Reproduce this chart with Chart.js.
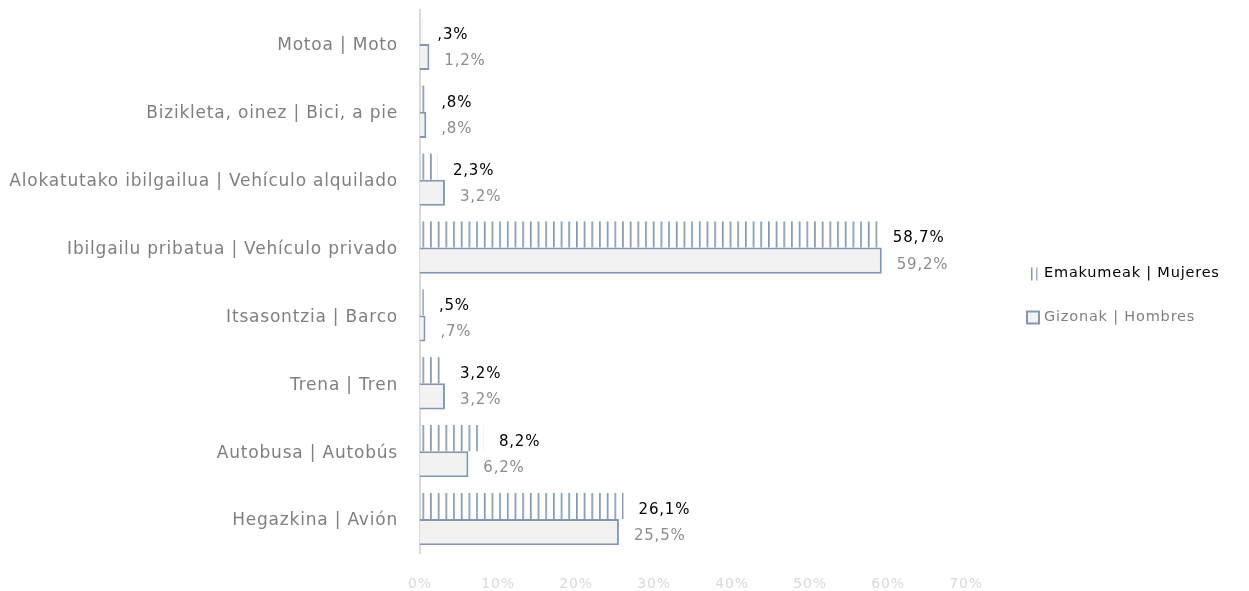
<!DOCTYPE html>
<html>
<head>
<meta charset="utf-8">
<script src="https://cdn.jsdelivr.net/npm/chart.js@4/dist/chart.umd.min.js"></script>
<style>
  html, body { margin: 0; padding: 0; background: #ffffff; }
  #wrap { width: 1249px; height: 591px; }
</style>
</head>
<body>
<div id="wrap"><canvas id="chart" width="1249" height="591"></canvas></div>
<script>
// Transport modes (Basque | Spanish)
const categories = [
  'Motoa | Moto',
  'Bizikleta, oinez | Bici, a pie',
  'Alokatutako ibilgailua | Vehículo alquilado',
  'Ibilgailu pribatua | Vehículo privado',
  'Itsasontzia | Barco',
  'Trena | Tren',
  'Autobusa | Autobús',
  'Hegazkina | Avión'
];
const seriesNames = ['Emakumeak | Mujeres', 'Gizonak | Hombres'];
const womenValues = [0.3, 0.8, 2.3, 58.7, 0.5, 3.2, 8.2, 26.1];
const menValues   = [1.2, 0.8, 3.2, 59.2, 0.7, 3.2, 6.2, 25.5];
const xTicks = [0, 10, 20, 30, 40, 50, 60, 70];

const FONT = 'DejaVu Sans';
const SPACING = '0.8px';
const BLUE_GREY = '#8497b0';

// Vertical-stripe fill used for the women's bars
function stripePattern() {
  const c = document.createElement('canvas');
  c.width = 8; c.height = 8;
  const g = c.getContext('2d');
  g.fillStyle = BLUE_GREY;
  g.fillRect(0, 0, 1, 8);
  g.fillStyle = '#a3b1c4';
  g.fillRect(1, 0, 1, 8);
  const p = document.getElementById('chart').getContext('2d').createPattern(c, 'repeat');
  p.setTransform(new DOMMatrix([0.96, 0, 0, 1, 0, 0]));
  return p;
}
const stripes = stripePattern();

function fmtPct(v) {
  let s = v.toFixed(1).replace('.', ',');
  if (s.startsWith('0')) s = s.slice(1);
  return s + '%';
}

// Wider tracking for all chart text
const tracking = {
  id: 'tracking',
  beforeLayout(chart) { chart.ctx.letterSpacing = SPACING; },
  beforeDraw(chart) { chart.ctx.letterSpacing = SPACING; }
};

// Value labels placed just past the end of each bar
const valueLabels = {
  id: 'valueLabels',
  afterDatasetsDraw(chart) {
    const ctx = chart.ctx;
    ctx.save();
    ctx.font = '15px "' + FONT + '"';
    ctx.textAlign = 'left';
    ctx.textBaseline = 'middle';
    chart.data.datasets.forEach((ds, di) => {
      const meta = chart.getDatasetMeta(di);
      ctx.fillStyle = di === 0 ? '#000000' : '#8c8c8c';
      meta.data.forEach((el, i) => {
        ctx.fillText(fmtPct(ds.data[i]), el.x + 15, el.y + 4);
      });
    });
    ctx.restore();
  }
};

// Legend on the right: striped marker for women, outlined box for men
const sideLegend = {
  id: 'sideLegend',
  afterDraw(chart) {
    const ctx = chart.ctx;
    const a = chart.chartArea;
    const cy = (a.top + a.bottom) / 2 + 14;
    const x0 = 1026, tx = 1044;
    ctx.save();
    ctx.font = '14.5px "' + FONT + '"';
    ctx.textAlign = 'left';
    ctx.textBaseline = 'middle';
    // women
    const y1 = cy - 22;
    ctx.fillStyle = BLUE_GREY;
    ctx.fillRect(x0 + 5, y1 - 6, 1.5, 13);
    ctx.fillStyle = '#a3b1c4';
    ctx.fillRect(x0 + 10, y1 - 6, 1.5, 13);
    ctx.fillStyle = '#000000';
    ctx.fillText(seriesNames[0], tx, y1);
    // men
    const y2 = cy + 22;
    ctx.fillStyle = '#f2f2f2';
    ctx.strokeStyle = BLUE_GREY;
    ctx.lineWidth = 2;
    ctx.fillRect(x0 + 1, y2 - 6, 12, 12);
    ctx.strokeRect(x0 + 1, y2 - 6, 12, 12);
    ctx.fillStyle = '#7f7f7f';
    ctx.fillText(seriesNames[1], tx, y2);
    ctx.restore();
  }
};

new Chart(document.getElementById('chart'), {
  type: 'bar',
  data: {
    labels: categories,
    datasets: [
      {
        label: seriesNames[0],
        data: womenValues,
        backgroundColor: stripes,
        borderWidth: 0,
        barPercentage: 1,
        categoryPercentage: 0.77
      },
      {
        label: seriesNames[1],
        data: menValues,
        backgroundColor: '#f2f2f2',
        borderColor: BLUE_GREY,
        borderWidth: 2,
        barPercentage: 1,
        categoryPercentage: 0.77
      }
    ]
  },
  options: {
    indexAxis: 'y',
    responsive: false,
    animation: false,
    devicePixelRatio: 1,
    layout: { padding: { top: 10, bottom: 0, left: 0, right: 283 } },
    plugins: {
      tooltip: { enabled: false },
      legend: { display: false }
    },
    scales: {
      x: {
        min: 0,
        max: 70,
        afterBuildTicks(scale) { scale.ticks = xTicks.map(v => ({ value: v })); },
        afterFit(scale) { scale.height = 38; },
        grid: { display: false },
        border: { display: false },
        ticks: {
          color: '#d9d9d9',
          font: { family: FONT, size: 14 },
          padding: 15,
          maxRotation: 0,
          callback: v => v + '%'
        }
      },
      y: {
        afterFit(scale) {
          scale.width = 420;
          scale.paddingTop = 0;
          scale.paddingBottom = 0;
        },
        grid: { display: true, drawOnChartArea: false, drawTicks: false, color: 'rgba(0,0,0,0)' },
        border: { display: true, color: '#d9d9d9', width: 2 },
        ticks: {
          color: '#7f7f7f',
          font: { family: FONT, size: 17 },
          padding: 22,
          labelOffset: 2
        }
      }
    }
  },
  plugins: [tracking, valueLabels, sideLegend]
});
</script>
</body>
</html>
